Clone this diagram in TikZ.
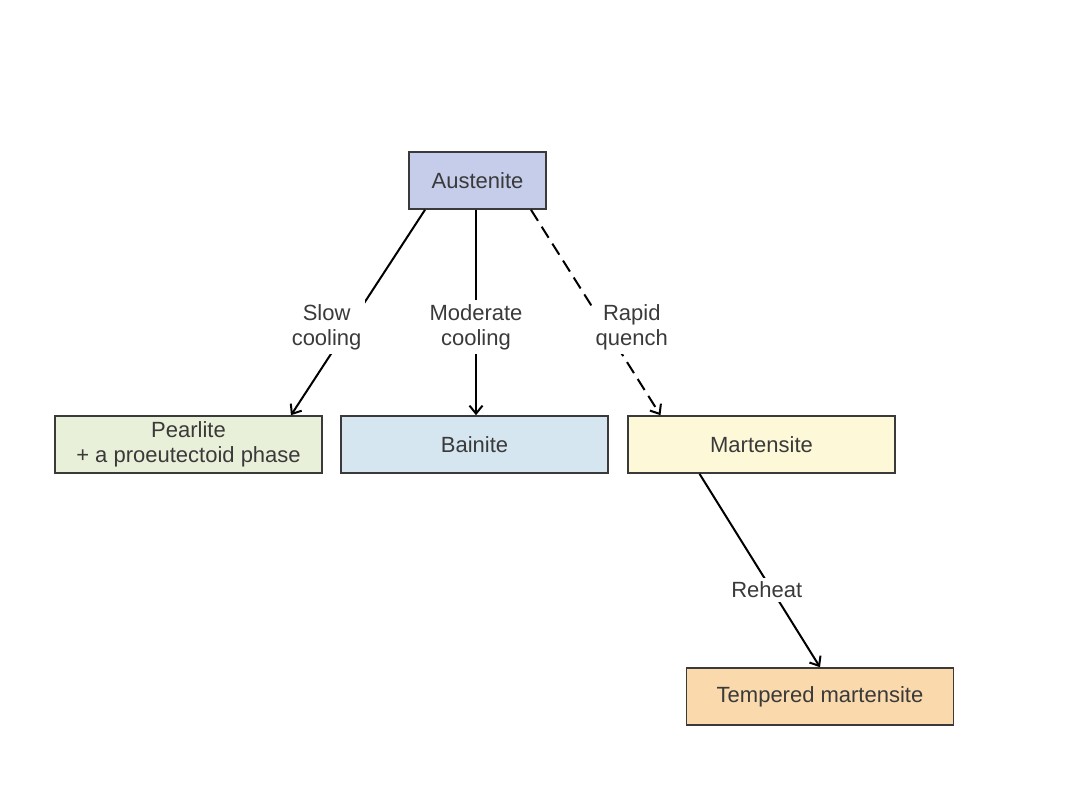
\documentclass[tikz,border=0pt]{standalone}
\usepackage{fontspec}
\setmainfont{Liberation Sans}
\usepackage{xcolor}
\usepackage{tikz}
\usetikzlibrary{arrows.meta,positioning}
\definecolor{austfill}{HTML}{C5CDEA}
\definecolor{pearfill}{HTML}{E9F0D9}
\definecolor{bainfill}{HTML}{D6E6F1}
\definecolor{martfill}{HTML}{FDF9D8}
\definecolor{tempfill}{HTML}{FAD9AC}
\definecolor{inkgray}{HTML}{3A3A3A}
\tikzset{
  phase/.style={draw=inkgray, line width=0.8pt, minimum width=133.5pt, minimum height=28.5pt,
    align=center, text=inkgray, inner sep=0pt},
  flow/.style={line width=1pt, -{Straight Barb[length=4pt,width=6.5pt]}},
  lbl/.style={fill=white, align=center, text=inkgray, inner sep=2pt}
}
\begin{document}
\begin{tikzpicture}[x=0.5pt, y=-0.5pt, font=\fontsize{11}{12.5}\selectfont]
  \useasboundingbox (0,0) rectangle (1080,810);
  \node[phase, fill=austfill, minimum width=68.5pt] (aus) at (477.5,180.5) {Austenite};
  \node[phase, fill=pearfill] (pea) at (188.5,444.5) {Pearlite\\+ a proeutectoid phase};
  \node[phase, fill=bainfill, right=8.7pt of pea] (bai) {Bainite};
  \node[phase, fill=martfill, right=9.2pt of bai] (mar) {Martensite};
  \node[phase, fill=tempfill] (tem) at (820,696.5) {Tempered martensite};

  % cooling paths
  \draw[flow] ([xshift=-26.25pt]aus.south) -- node[lbl, pos=.57, xshift=-11pt] {Slow\\cooling} ([xshift=51.25pt]pea.north);
  \draw[flow] ([xshift=-0.75pt]aus.south) -- node[lbl, pos=.57] {Moderate\\cooling} ([xshift=-0.75pt]aus.south |- bai.north);
  \draw[flow, dash pattern=on 6.5pt off 3.5pt] ([xshift=26.75pt]aus.south) -- node[lbl, pos=.57, xshift=13.5pt] {Rapid\\quench} ([xshift=-50.5pt]mar.north);
  \draw[flow] ([xshift=-31pt]mar.south) -- node[lbl, pos=.6, xshift=-2.5pt] {Reheat} (tem.north);
\end{tikzpicture}
\end{document}
